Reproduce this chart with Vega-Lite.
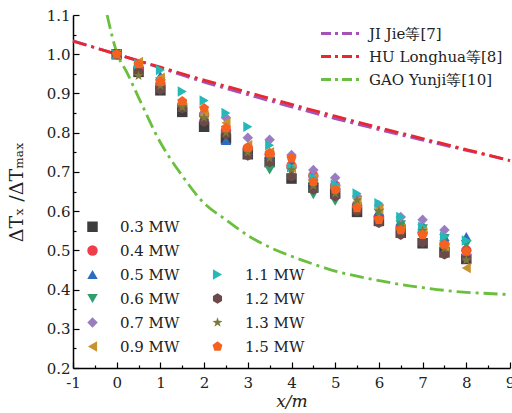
{
  "$schema": "https://vega.github.io/schema/vega-lite/v6.json",
  "width": 437,
  "height": 353,
  "autosize": {"type": "none"},
  "padding": {"left": 73, "top": 15, "right": 2, "bottom": 45},
  "config": {
    "view": {"stroke": null},
    "font": "DejaVu Serif",
    "axis": {
      "domainColor": "#000",
      "domainWidth": 1.5,
      "tickColor": "#000",
      "tickWidth": 1.2,
      "labelColor": "#222",
      "labelFont": "DejaVu Serif",
      "labelFontSize": 15,
      "grid": false,
      "titleFont": "DejaVu Serif",
      "titleColor": "#222",
      "titleFontWeight": "normal"
    },
    "legend": {
      "labelFont": "DejaVu Serif",
      "labelFontSize": 15,
      "labelColor": "#222"
    }
  },
  "datasets": {
    "lines": [
      {"src": "JI Jie等[7]", "x": -1, "y": 1.034},
      {"src": "JI Jie等[7]", "x": 0, "y": 1.0},
      {"src": "JI Jie等[7]", "x": 1, "y": 0.965},
      {"src": "JI Jie等[7]", "x": 2, "y": 0.929},
      {"src": "JI Jie等[7]", "x": 3, "y": 0.897},
      {"src": "JI Jie等[7]", "x": 4, "y": 0.866},
      {"src": "JI Jie等[7]", "x": 5, "y": 0.836},
      {"src": "JI Jie等[7]", "x": 6, "y": 0.808},
      {"src": "JI Jie等[7]", "x": 7, "y": 0.781},
      {"src": "JI Jie等[7]", "x": 8, "y": 0.755},
      {"src": "JI Jie等[7]", "x": 9, "y": 0.729},
      {"src": "HU Longhua等[8]", "x": -1, "y": 1.033},
      {"src": "HU Longhua等[8]", "x": 0, "y": 1.0},
      {"src": "HU Longhua等[8]", "x": 1, "y": 0.967},
      {"src": "HU Longhua等[8]", "x": 2, "y": 0.934},
      {"src": "HU Longhua等[8]", "x": 3, "y": 0.903},
      {"src": "HU Longhua等[8]", "x": 4, "y": 0.872},
      {"src": "HU Longhua等[8]", "x": 5, "y": 0.842},
      {"src": "HU Longhua等[8]", "x": 6, "y": 0.813},
      {"src": "HU Longhua等[8]", "x": 7, "y": 0.785},
      {"src": "HU Longhua等[8]", "x": 8, "y": 0.757},
      {"src": "HU Longhua等[8]", "x": 9, "y": 0.729},
      {"src": "GAO Yunji等[10]", "x": -0.22, "y": 1.1},
      {"src": "GAO Yunji等[10]", "x": 0, "y": 1.005},
      {"src": "GAO Yunji等[10]", "x": 0.25, "y": 0.95},
      {"src": "GAO Yunji等[10]", "x": 0.5, "y": 0.89},
      {"src": "GAO Yunji等[10]", "x": 1, "y": 0.775},
      {"src": "GAO Yunji等[10]", "x": 1.5, "y": 0.69},
      {"src": "GAO Yunji等[10]", "x": 2, "y": 0.62},
      {"src": "GAO Yunji等[10]", "x": 2.5, "y": 0.578},
      {"src": "GAO Yunji等[10]", "x": 3, "y": 0.538},
      {"src": "GAO Yunji等[10]", "x": 3.5, "y": 0.508},
      {"src": "GAO Yunji等[10]", "x": 4, "y": 0.485},
      {"src": "GAO Yunji等[10]", "x": 4.5, "y": 0.465},
      {"src": "GAO Yunji等[10]", "x": 5, "y": 0.447},
      {"src": "GAO Yunji等[10]", "x": 5.5, "y": 0.434},
      {"src": "GAO Yunji等[10]", "x": 6, "y": 0.423},
      {"src": "GAO Yunji等[10]", "x": 6.5, "y": 0.413},
      {"src": "GAO Yunji等[10]", "x": 7, "y": 0.405},
      {"src": "GAO Yunji等[10]", "x": 7.5, "y": 0.398},
      {"src": "GAO Yunji等[10]", "x": 8, "y": 0.393},
      {"src": "GAO Yunji等[10]", "x": 8.5, "y": 0.39},
      {"src": "GAO Yunji等[10]", "x": 9, "y": 0.387}
    ],
    "pts": [
      {"s": "0.3 MW", "x": 0, "y": 1.0}, {"s": "0.3 MW", "x": 0.5, "y": 0.955}, {"s": "0.3 MW", "x": 1, "y": 0.908}, {"s": "0.3 MW", "x": 1.5, "y": 0.853}, {"s": "0.3 MW", "x": 2, "y": 0.815}, {"s": "0.3 MW", "x": 2.5, "y": 0.785}, {"s": "0.3 MW", "x": 3, "y": 0.745}, {"s": "0.3 MW", "x": 3.5, "y": 0.725}, {"s": "0.3 MW", "x": 4, "y": 0.683}, {"s": "0.3 MW", "x": 4.5, "y": 0.66}, {"s": "0.3 MW", "x": 5, "y": 0.645}, {"s": "0.3 MW", "x": 5.5, "y": 0.598}, {"s": "0.3 MW", "x": 6, "y": 0.575}, {"s": "0.3 MW", "x": 6.5, "y": 0.545}, {"s": "0.3 MW", "x": 7, "y": 0.518}, {"s": "0.3 MW", "x": 7.5, "y": 0.495}, {"s": "0.3 MW", "x": 8, "y": 0.478},
      {"s": "0.4 MW", "x": 0, "y": 1.0}, {"s": "0.4 MW", "x": 0.5, "y": 0.965}, {"s": "0.4 MW", "x": 1, "y": 0.925}, {"s": "0.4 MW", "x": 1.5, "y": 0.87}, {"s": "0.4 MW", "x": 2, "y": 0.845}, {"s": "0.4 MW", "x": 2.5, "y": 0.805}, {"s": "0.4 MW", "x": 3, "y": 0.76}, {"s": "0.4 MW", "x": 3.5, "y": 0.745}, {"s": "0.4 MW", "x": 4, "y": 0.715}, {"s": "0.4 MW", "x": 4.5, "y": 0.69}, {"s": "0.4 MW", "x": 5, "y": 0.665}, {"s": "0.4 MW", "x": 5.5, "y": 0.615}, {"s": "0.4 MW", "x": 6, "y": 0.585}, {"s": "0.4 MW", "x": 6.5, "y": 0.56}, {"s": "0.4 MW", "x": 7, "y": 0.545}, {"s": "0.4 MW", "x": 7.5, "y": 0.515}, {"s": "0.4 MW", "x": 8, "y": 0.5},
      {"s": "0.5 MW", "x": 0, "y": 1.0}, {"s": "0.5 MW", "x": 0.5, "y": 0.965}, {"s": "0.5 MW", "x": 1, "y": 0.945}, {"s": "0.5 MW", "x": 1.5, "y": 0.865}, {"s": "0.5 MW", "x": 2, "y": 0.84}, {"s": "0.5 MW", "x": 2.5, "y": 0.78}, {"s": "0.5 MW", "x": 3, "y": 0.755}, {"s": "0.5 MW", "x": 3.5, "y": 0.74}, {"s": "0.5 MW", "x": 4, "y": 0.72}, {"s": "0.5 MW", "x": 4.5, "y": 0.69}, {"s": "0.5 MW", "x": 5, "y": 0.67}, {"s": "0.5 MW", "x": 5.5, "y": 0.625}, {"s": "0.5 MW", "x": 6, "y": 0.6}, {"s": "0.5 MW", "x": 6.5, "y": 0.575}, {"s": "0.5 MW", "x": 7, "y": 0.565}, {"s": "0.5 MW", "x": 7.5, "y": 0.535}, {"s": "0.5 MW", "x": 8, "y": 0.535},
      {"s": "0.6 MW", "x": 0, "y": 1.0}, {"s": "0.6 MW", "x": 0.5, "y": 0.96}, {"s": "0.6 MW", "x": 1, "y": 0.93}, {"s": "0.6 MW", "x": 1.5, "y": 0.862}, {"s": "0.6 MW", "x": 2, "y": 0.835}, {"s": "0.6 MW", "x": 2.5, "y": 0.79}, {"s": "0.6 MW", "x": 3, "y": 0.752}, {"s": "0.6 MW", "x": 3.5, "y": 0.705}, {"s": "0.6 MW", "x": 4, "y": 0.7}, {"s": "0.6 MW", "x": 4.5, "y": 0.642}, {"s": "0.6 MW", "x": 5, "y": 0.625}, {"s": "0.6 MW", "x": 5.5, "y": 0.61}, {"s": "0.6 MW", "x": 6, "y": 0.595}, {"s": "0.6 MW", "x": 6.5, "y": 0.565}, {"s": "0.6 MW", "x": 7, "y": 0.555}, {"s": "0.6 MW", "x": 7.5, "y": 0.53}, {"s": "0.6 MW", "x": 8, "y": 0.515},
      {"s": "0.7 MW", "x": 0, "y": 1.0}, {"s": "0.7 MW", "x": 0.5, "y": 0.975}, {"s": "0.7 MW", "x": 1, "y": 0.935}, {"s": "0.7 MW", "x": 1.5, "y": 0.875}, {"s": "0.7 MW", "x": 2, "y": 0.85}, {"s": "0.7 MW", "x": 2.5, "y": 0.838}, {"s": "0.7 MW", "x": 3, "y": 0.787}, {"s": "0.7 MW", "x": 3.5, "y": 0.782}, {"s": "0.7 MW", "x": 4, "y": 0.743}, {"s": "0.7 MW", "x": 4.5, "y": 0.705}, {"s": "0.7 MW", "x": 5, "y": 0.685}, {"s": "0.7 MW", "x": 5.5, "y": 0.638}, {"s": "0.7 MW", "x": 6, "y": 0.615}, {"s": "0.7 MW", "x": 6.5, "y": 0.585}, {"s": "0.7 MW", "x": 7, "y": 0.578}, {"s": "0.7 MW", "x": 7.5, "y": 0.552}, {"s": "0.7 MW", "x": 8, "y": 0.488},
      {"s": "0.9 MW", "x": 0, "y": 1.0}, {"s": "0.9 MW", "x": 0.5, "y": 0.98}, {"s": "0.9 MW", "x": 1, "y": 0.94}, {"s": "0.9 MW", "x": 1.5, "y": 0.872}, {"s": "0.9 MW", "x": 2, "y": 0.845}, {"s": "0.9 MW", "x": 2.5, "y": 0.825}, {"s": "0.9 MW", "x": 3, "y": 0.768}, {"s": "0.9 MW", "x": 3.5, "y": 0.75}, {"s": "0.9 MW", "x": 4, "y": 0.71}, {"s": "0.9 MW", "x": 4.5, "y": 0.685}, {"s": "0.9 MW", "x": 5, "y": 0.66}, {"s": "0.9 MW", "x": 5.5, "y": 0.625}, {"s": "0.9 MW", "x": 6, "y": 0.605}, {"s": "0.9 MW", "x": 6.5, "y": 0.555}, {"s": "0.9 MW", "x": 7, "y": 0.55}, {"s": "0.9 MW", "x": 7.5, "y": 0.51}, {"s": "0.9 MW", "x": 8, "y": 0.455},
      {"s": "1.1 MW", "x": 0, "y": 1.0}, {"s": "1.1 MW", "x": 0.5, "y": 0.975}, {"s": "1.1 MW", "x": 1, "y": 0.96}, {"s": "1.1 MW", "x": 1.5, "y": 0.905}, {"s": "1.1 MW", "x": 2, "y": 0.882}, {"s": "1.1 MW", "x": 2.5, "y": 0.85}, {"s": "1.1 MW", "x": 3, "y": 0.815}, {"s": "1.1 MW", "x": 3.5, "y": 0.768}, {"s": "1.1 MW", "x": 4, "y": 0.712}, {"s": "1.1 MW", "x": 4.5, "y": 0.685}, {"s": "1.1 MW", "x": 5, "y": 0.668}, {"s": "1.1 MW", "x": 5.5, "y": 0.645}, {"s": "1.1 MW", "x": 6, "y": 0.62}, {"s": "1.1 MW", "x": 6.5, "y": 0.585}, {"s": "1.1 MW", "x": 7, "y": 0.56}, {"s": "1.1 MW", "x": 7.5, "y": 0.535}, {"s": "1.1 MW", "x": 8, "y": 0.525},
      {"s": "1.2 MW", "x": 0, "y": 1.0}, {"s": "1.2 MW", "x": 0.5, "y": 0.955}, {"s": "1.2 MW", "x": 1, "y": 0.91}, {"s": "1.2 MW", "x": 1.5, "y": 0.862}, {"s": "1.2 MW", "x": 2, "y": 0.828}, {"s": "1.2 MW", "x": 2.5, "y": 0.795}, {"s": "1.2 MW", "x": 3, "y": 0.742}, {"s": "1.2 MW", "x": 3.5, "y": 0.725}, {"s": "1.2 MW", "x": 4, "y": 0.688}, {"s": "1.2 MW", "x": 4.5, "y": 0.655}, {"s": "1.2 MW", "x": 5, "y": 0.638}, {"s": "1.2 MW", "x": 5.5, "y": 0.6}, {"s": "1.2 MW", "x": 6, "y": 0.57}, {"s": "1.2 MW", "x": 6.5, "y": 0.54}, {"s": "1.2 MW", "x": 7, "y": 0.52}, {"s": "1.2 MW", "x": 7.5, "y": 0.49}, {"s": "1.2 MW", "x": 8, "y": 0.48},
      {"s": "1.3 MW", "x": 0, "y": 1.0}, {"s": "1.3 MW", "x": 0.5, "y": 0.945}, {"s": "1.3 MW", "x": 1, "y": 0.92}, {"s": "1.3 MW", "x": 1.5, "y": 0.865}, {"s": "1.3 MW", "x": 2, "y": 0.838}, {"s": "1.3 MW", "x": 2.5, "y": 0.8}, {"s": "1.3 MW", "x": 3, "y": 0.75}, {"s": "1.3 MW", "x": 3.5, "y": 0.735}, {"s": "1.3 MW", "x": 4, "y": 0.705}, {"s": "1.3 MW", "x": 4.5, "y": 0.665}, {"s": "1.3 MW", "x": 5, "y": 0.645}, {"s": "1.3 MW", "x": 5.5, "y": 0.628}, {"s": "1.3 MW", "x": 6, "y": 0.6}, {"s": "1.3 MW", "x": 6.5, "y": 0.56}, {"s": "1.3 MW", "x": 7, "y": 0.55}, {"s": "1.3 MW", "x": 7.5, "y": 0.505}, {"s": "1.3 MW", "x": 8, "y": 0.475},
      {"s": "1.5 MW", "x": 0, "y": 1.0}, {"s": "1.5 MW", "x": 0.5, "y": 0.975}, {"s": "1.5 MW", "x": 1, "y": 0.93}, {"s": "1.5 MW", "x": 1.5, "y": 0.88}, {"s": "1.5 MW", "x": 2, "y": 0.862}, {"s": "1.5 MW", "x": 2.5, "y": 0.812}, {"s": "1.5 MW", "x": 3, "y": 0.762}, {"s": "1.5 MW", "x": 3.5, "y": 0.748}, {"s": "1.5 MW", "x": 4, "y": 0.735}, {"s": "1.5 MW", "x": 4.5, "y": 0.675}, {"s": "1.5 MW", "x": 5, "y": 0.655}, {"s": "1.5 MW", "x": 5.5, "y": 0.608}, {"s": "1.5 MW", "x": 6, "y": 0.578}, {"s": "1.5 MW", "x": 6.5, "y": 0.552}, {"s": "1.5 MW", "x": 7, "y": 0.54}, {"s": "1.5 MW", "x": 7.5, "y": 0.515}, {"s": "1.5 MW", "x": 8, "y": 0.497}
    ]
  },
  "layer": [
    {
      "data": {"name": "lines"},
      "mark": {"type": "point", "opacity": 0},
      "encoding": {
        "x": {"field": "x", "type": "quantitative", "scale": {"domain": [-1, 9], "nice": false, "zero": false},
          "axis": {"orient": "bottom", "values": [-0.5, 0.5, 1.5, 2.5, 3.5, 4.5, 5.5, 6.5, 7.5, 8.5], "labels": false, "tickSize": -3, "domain": false, "title": null}},
        "y": {"field": "y", "type": "quantitative", "scale": {"domain": [0.2, 1.1], "nice": false, "zero": false},
          "axis": {"orient": "left", "values": [0.25, 0.35, 0.45, 0.55, 0.65, 0.75, 0.85, 0.95, 1.05], "labels": false, "tickSize": -3, "domain": false, "title": null}}
      }
    },
    {
      "data": {"name": "lines"},
      "mark": {"type": "line", "strokeWidth": 2.8, "strokeDash": [14, 5, 3, 5], "interpolate": "monotone"},
      "encoding": {
        "x": {"field": "x", "type": "quantitative", "scale": {"domain": [-1, 9], "nice": false, "zero": false},
          "axis": {"orient": "bottom", "values": [-1, 0, 1, 2, 3, 4, 5, 6, 7, 8, 9], "tickSize": -6, "labelFlush": false, "labelExpr": "'' + datum.value", "labelPadding": 13, "title": "x/m", "titleFontSize": 17, "titleFontStyle": "italic", "titlePadding": 3}},
        "y": {"field": "y", "type": "quantitative", "scale": {"domain": [0.2, 1.1], "nice": false, "zero": false},
          "axis": {"orient": "left", "values": [0.2, 0.3, 0.4, 0.5, 0.6, 0.7, 0.8, 0.9, 1.0, 1.1], "format": ".1f", "tickSize": -6, "labelPadding": 9, "title": "ΔTₓ /ΔTₘₐₓ", "titleFontSize": 19, "titlePadding": 20}},
        "color": {"field": "src", "type": "nominal",
          "scale": {"domain": ["JI Jie等[7]", "HU Longhua等[8]", "GAO Yunji等[10]"], "range": ["#a651b8", "#e8272e", "#6bbf3e"]},
          "legend": {"orient": "none", "legendX": 256, "legendY": 7, "title": null, "symbolType": "M-2,0L2,0", "symbolSize": 380, "symbolStrokeWidth": 3, "symbolDash": [10, 4, 3, 4], "labelOffset": 17, "rowPadding": 3, "labelFontSize": 15}}
      }
    },
    {
      "data": {"name": "pts"},
      "mark": {"type": "point", "filled": true, "opacity": 1, "size": 110},
      "encoding": {
        "x": {"field": "x", "type": "quantitative", "scale": {"domain": [-1, 9], "nice": false, "zero": false}, "axis": null},
        "y": {"field": "y", "type": "quantitative", "scale": {"domain": [0.2, 1.1], "nice": false, "zero": false}, "axis": null},
        "color": {"field": "s", "type": "nominal",
          "scale": {"domain": ["0.3 MW", "0.4 MW", "0.5 MW", "0.6 MW", "0.7 MW", "0.9 MW", "b1", "b2", "1.1 MW", "1.2 MW", "1.3 MW", "1.5 MW"],
            "range": ["#3d3d3d", "#ee3f48", "#2b6cc0", "#2f9e6d", "#9b7cc2", "#c8922c", "transparent", "transparent", "#25b8b8", "#6c4a4a", "#7c7a3a", "#f5621f"]},
          "legend": {"orient": "none", "legendX": 12, "legendY": 204, "title": null, "columns": 2, "symbolSize": 110, "labelOffset": 20, "columnPadding": 30, "rowPadding": 8, "labelFontSize": 15, "symbolStrokeWidth": 0, "labelExpr": "indexof(datum.label, 'b') == 0 ? '' : datum.label"}},
        "shape": {"field": "s", "type": "nominal",
          "scale": {"domain": ["0.3 MW", "0.4 MW", "0.5 MW", "0.6 MW", "0.7 MW", "0.9 MW", "b1", "b2", "1.1 MW", "1.2 MW", "1.3 MW", "1.5 MW"],
            "range": ["square", "circle", "triangle-up", "triangle-down", "diamond", "triangle-left", "circle", "circle", "triangle-right", "M0,-1L0.866,-0.5L0.866,0.5L0,1L-0.866,0.5L-0.866,-0.5Z", "M0,-1L0.235,-0.324L0.951,-0.309L0.38,0.124L0.588,0.809L0,0.4L-0.588,0.809L-0.38,0.124L-0.951,-0.309L-0.235,-0.324Z", "M0,-1L0.951,-0.309L0.588,0.809L-0.588,0.809L-0.951,-0.309Z"]},
          "legend": {"orient": "none", "legendX": 12, "legendY": 204, "title": null, "columns": 2, "symbolSize": 110, "labelOffset": 20, "columnPadding": 30, "rowPadding": 8, "labelFontSize": 15, "symbolStrokeWidth": 0, "labelExpr": "indexof(datum.label, 'b') == 0 ? '' : datum.label"}}
      }
    }
  ],
  "resolve": {
    "scale": {"color": "independent", "shape": "independent"},
    "axis": {"x": "independent", "y": "independent"}
  }
}
